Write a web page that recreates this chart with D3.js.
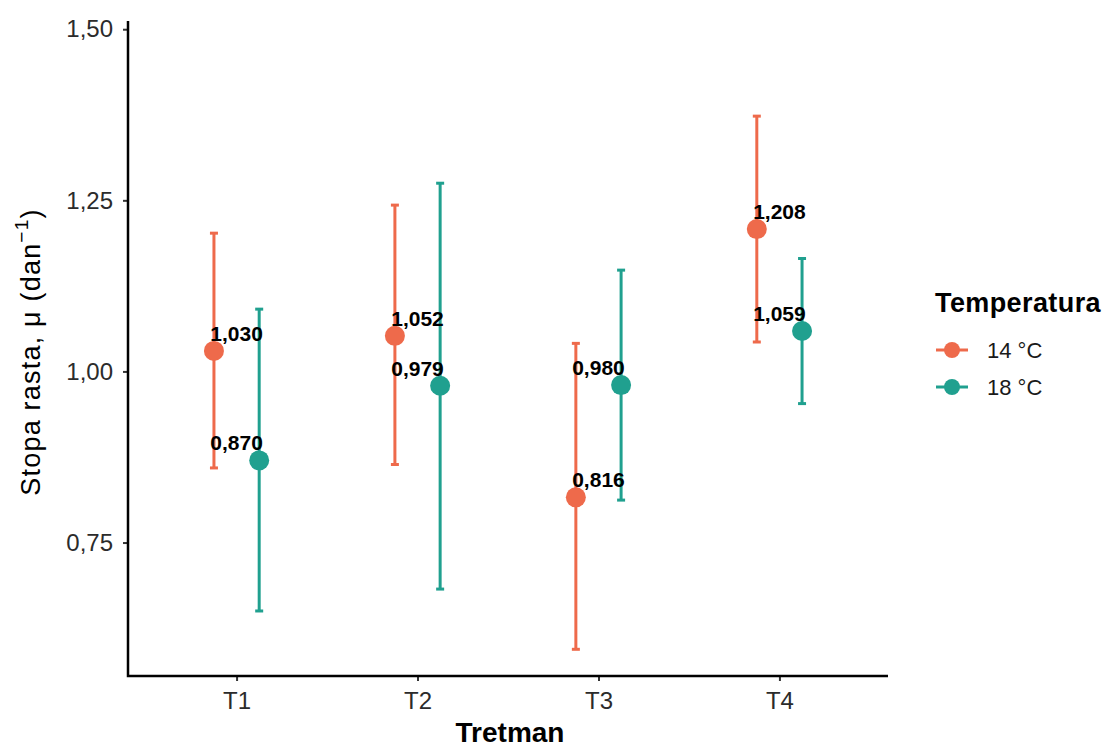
<!DOCTYPE html>
<html>
<head>
<meta charset="utf-8">
<script src="https://cdn.jsdelivr.net/npm/d3@7"></script>
<style>
  body { margin: 0; background: #fff; }
  svg { display: block; font-family: "Liberation Sans", Arial, sans-serif; }
</style>
</head>
<body>
<svg id="chart" width="1112" height="749"></svg>
<script>
// data
var groups = ['T1', 'T2', 'T3', 'T4'];
var temps = ['14 °C', '18 °C'];
var mean14 = [1.030, 1.052, 0.816, 1.208];
var low14 = [0.859, 0.864, 0.594, 1.043];
var high14 = [1.202, 1.243, 1.041, 1.373];
var mean18 = [0.870, 0.979, 0.980, 1.059];
var low18 = [0.650, 0.682, 0.812, 0.953];
var high18 = [1.091, 1.275, 1.148, 1.165];
var yTicks = [0.75, 1.00, 1.25, 1.50];

var colors = ['#EE6A4B', '#20A08F'];

var svg = d3.select('#chart');
var plotLeft = 128, plotRight = 888, plotTop = 21, plotBottom = 676;

var x = d3.scalePoint().domain(groups).range([plotLeft, plotRight]).padding(0.6);
var y = d3.scaleLinear().domain([0.555, 1.512]).range([plotBottom, plotTop]);
var dodge = x.step() * 0.125;

var locale = d3.formatLocale({ decimal: ',', thousands: '.', grouping: [3], currency: ['', ''] });
var fmt3 = locale.format('.3f');
var fmt2 = locale.format('.2f');

var rows = [];
groups.forEach(function(g, i) {
    rows.push({ g: g, t: 0, mean: mean14[i], lo: low14[i], hi: high14[i] });
    rows.push({ g: g, t: 1, mean: mean18[i], lo: low18[i], hi: high18[i] });
});
function px(d) { return x(d.g) + (d.t === 0 ? -dodge : dodge); }

// axes
var yAxis = svg.append('g')
    .attr('transform', 'translate(' + plotLeft + ',0)')
    .call(d3.axisLeft(y).tickValues(yTicks).tickFormat(fmt2).tickSize(5).tickPadding(10));
var xAxis = svg.append('g')
    .attr('transform', 'translate(0,' + plotBottom + ')')
    .call(d3.axisBottom(x).tickSize(5).tickPadding(8));

[yAxis, xAxis].forEach(function(a) {
    a.select('.domain').remove();
    a.selectAll('.tick line').attr('stroke', '#333').attr('stroke-width', 2);
    a.selectAll('.tick text').attr('fill', '#2b2b2b').style('font-size', '24px');
});
xAxis.selectAll('.tick text').attr('dy', '0.85em');

svg.append('path')
    .attr('d', 'M' + plotLeft + ',' + plotTop + 'V' + plotBottom + 'H' + plotRight)
    .attr('fill', 'none').attr('stroke', '#000').attr('stroke-width', 2.5);

// error bars
var bars = svg.append('g').selectAll('g').data(rows).enter().append('g')
    .attr('stroke', function(d) { return colors[d.t]; })
    .attr('stroke-width', 3);
bars.append('line')
    .attr('x1', px).attr('x2', px)
    .attr('y1', function(d) { return y(d.lo); })
    .attr('y2', function(d) { return y(d.hi); });
bars.append('line')
    .attr('x1', function(d) { return px(d) - 4; }).attr('x2', function(d) { return px(d) + 4; })
    .attr('y1', function(d) { return y(d.lo); }).attr('y2', function(d) { return y(d.lo); });
bars.append('line')
    .attr('x1', function(d) { return px(d) - 4; }).attr('x2', function(d) { return px(d) + 4; })
    .attr('y1', function(d) { return y(d.hi); }).attr('y2', function(d) { return y(d.hi); });

// points
svg.append('g').selectAll('circle').data(rows).enter().append('circle')
    .attr('cx', px)
    .attr('cy', function(d) { return y(d.mean); })
    .attr('r', 10)
    .attr('fill', function(d) { return colors[d.t]; });

// value labels (centered on the group, not dodged)
svg.append('g').selectAll('text').data(rows).enter().append('text')
    .attr('x', function(d) { return x(d.g); })
    .attr('y', function(d) { return y(d.mean) - 10; })
    .attr('text-anchor', 'middle')
    .style('font-size', '21px').style('font-weight', 'bold')
    .attr('fill', '#000')
    .text(function(d) { return fmt3(d.mean); });

// axis titles
svg.append('text')
    .attr('x', (plotLeft + plotRight) / 2 + 2).attr('y', 742)
    .attr('text-anchor', 'middle')
    .style('font-size', '28px').style('font-weight', 'bold')
    .text('Tretman');

var yt = svg.append('text')
    .attr('transform', 'translate(40,' + 352 + ') rotate(-90)')
    .attr('text-anchor', 'middle')
    .style('font-size', '27px').style('letter-spacing', '1.2px');
yt.append('tspan').text('Stopa rasta, μ (dan');
yt.append('tspan').attr('dy', -12).style('font-size', '19px').text('−1');
yt.append('tspan').attr('dy', 12).text(')');

// legend
var lg = svg.append('g');
lg.append('text')
    .attr('x', 935).attr('y', 312)
    .style('font-size', '27px').style('font-weight', 'bold')
    .style('letter-spacing', '0.4px')
    .text('Temperatura');
var items = lg.selectAll('g.item').data(temps).enter().append('g')
    .attr('transform', function(d, i) { return 'translate(0,' + (350 + i * 37) + ')'; });
items.append('line')
    .attr('x1', 936).attr('x2', 968).attr('y1', 0).attr('y2', 0)
    .attr('stroke', function(d, i) { return colors[i]; }).attr('stroke-width', 3);
items.append('circle')
    .attr('cx', 952).attr('cy', 0).attr('r', 8)
    .attr('fill', function(d, i) { return colors[i]; });
items.append('text')
    .attr('x', 987).attr('y', 8)
    .style('font-size', '22px').attr('fill', '#1a1a1a')
    .text(function(d) { return d; });
</script>
</body>
</html>
